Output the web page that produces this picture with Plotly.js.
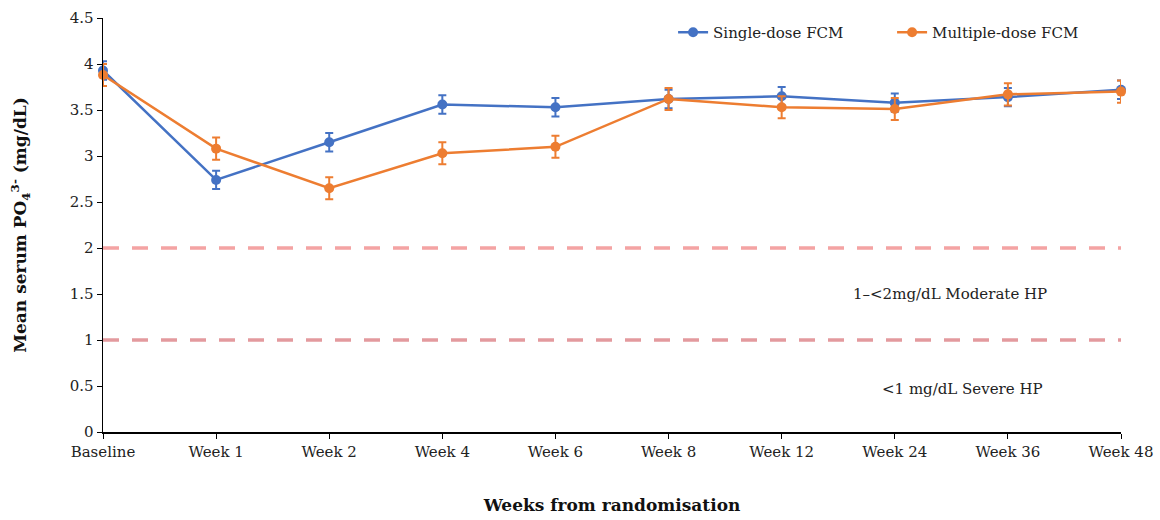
<!DOCTYPE html>
<html><head><meta charset="utf-8">
<script src="https://cdn.plot.ly/plotly-3.0.1.min.js"></script>
<style>body{margin:0;background:#fff}#c{width:1160px;height:520px}</style>
</head><body><div id="c"></div>
<script>
const categories = ["Baseline","Week 1","Week 2","Week 4","Week 6","Week 8","Week 12","Week 24","Week 36","Week 48"];
const singleDose = [3.93, 2.74, 3.15, 3.56, 3.53, 3.62, 3.65, 3.58, 3.64, 3.72];
const singleErr  = [0.10, 0.10, 0.10, 0.10, 0.10, 0.10, 0.10, 0.10, 0.10, 0.10];
const multiDose  = [3.88, 3.08, 2.65, 3.03, 3.10, 3.62, 3.53, 3.51, 3.67, 3.70];
const multiErr   = [0.12, 0.12, 0.12, 0.12, 0.12, 0.12, 0.12, 0.12, 0.12, 0.12];
const thresholds = [2, 1];
const thresholdColors = ["#f4a3a3", "#e39a9e"];
const zoneLabels = ["1–<2mg/dL Moderate HP", "<1 mg/dL Severe HP"];
const zoneLabelY = [1.5, 0.47];

const xs = categories.map((_, i) => i);
const font = "'DejaVu Serif', 'Liberation Serif', serif";
const labelX = [7.49, 7.6];

const traces = [
  {x: xs, y: singleDose, name: "Single-dose FCM", type: "scatter", mode: "lines+markers",
   line: {color: "#4472C4", width: 2.5}, marker: {color: "#4472C4", size: 10},
   error_y: {type: "data", array: singleErr, visible: true, color: "#4472C4", thickness: 2, width: 4},
   cliponaxis: false},
  {x: xs, y: multiDose, name: "Multiple-dose FCM", type: "scatter", mode: "lines+markers",
   line: {color: "#ED7D31", width: 2.5}, marker: {color: "#ED7D31", size: 10},
   error_y: {type: "data", array: multiErr, visible: true, color: "#ED7D31", thickness: 2, width: 4},
   cliponaxis: false}
];

const shapes = thresholds.map((t, i) => ({
  type: "line", xref: "paper", x0: 0, x1: 1, yref: "y", y0: t, y1: t,
  line: {color: thresholdColors[i], width: 3.5, dash: "16px,13px"}, layer: "below"
}));

const annotations = zoneLabels.map((txt, i) => ({
  text: txt, x: labelX[i], y: zoneLabelY[i], xref: "x", yref: "y", showarrow: false,
  font: {family: font, size: 15, color: "#222"}
}));

const layout = {
  width: 1160, height: 520,
  margin: {l: 103, r: 39, t: 18, b: 88, autoexpand: false},
  paper_bgcolor: "#fff", plot_bgcolor: "#fff",
  font: {family: font, size: 15, color: "#222"},
  showlegend: true,
  legend: {orientation: "h", x: 0.56, y: 0.965, xanchor: "left", yanchor: "middle",
           entrywidth: 174, entrywidthmode: "pixels",
           bgcolor: "rgba(0,0,0,0)", font: {family: font, size: 15, color: "#222"}},
  xaxis: {
    range: [0, 9], tickmode: "array", tickvals: xs, ticktext: categories,
    showgrid: false, zeroline: false, showline: true, linecolor: "#000", linewidth: 1.5,
    ticks: "outside", ticklen: 5, tickcolor: "#000", tickfont: {family: font, size: 15, color: "#222"},
    title: {text: "<b>Weeks from randomisation</b>", font: {family: font, size: 17, color: "#111"}, standoff: 39}
  },
  yaxis: {
    range: [0, 4.5], tickvals: [0,0.5,1,1.5,2,2.5,3,3.5,4,4.5],
    ticktext: ["0","0.5","1","1.5","2","2.5","3","3.5","4","4.5"],
    showgrid: false, zeroline: false, showline: true, linecolor: "#000", linewidth: 1.5,
    ticks: "outside", ticklen: 5, tickcolor: "#000", tickfont: {family: font, size: 15, color: "#222"},
    title: {text: "<b>Mean serum PO<sub>4</sub><sup>3-</sup> (mg/dL)</b>", font: {family: font, size: 17, color: "#111"}, standoff: 38}
  },
  shapes: shapes,
  annotations: annotations
};

Plotly.newPlot("c", traces, layout, {displayModeBar: false, staticPlot: true});
</script>
</body></html>
